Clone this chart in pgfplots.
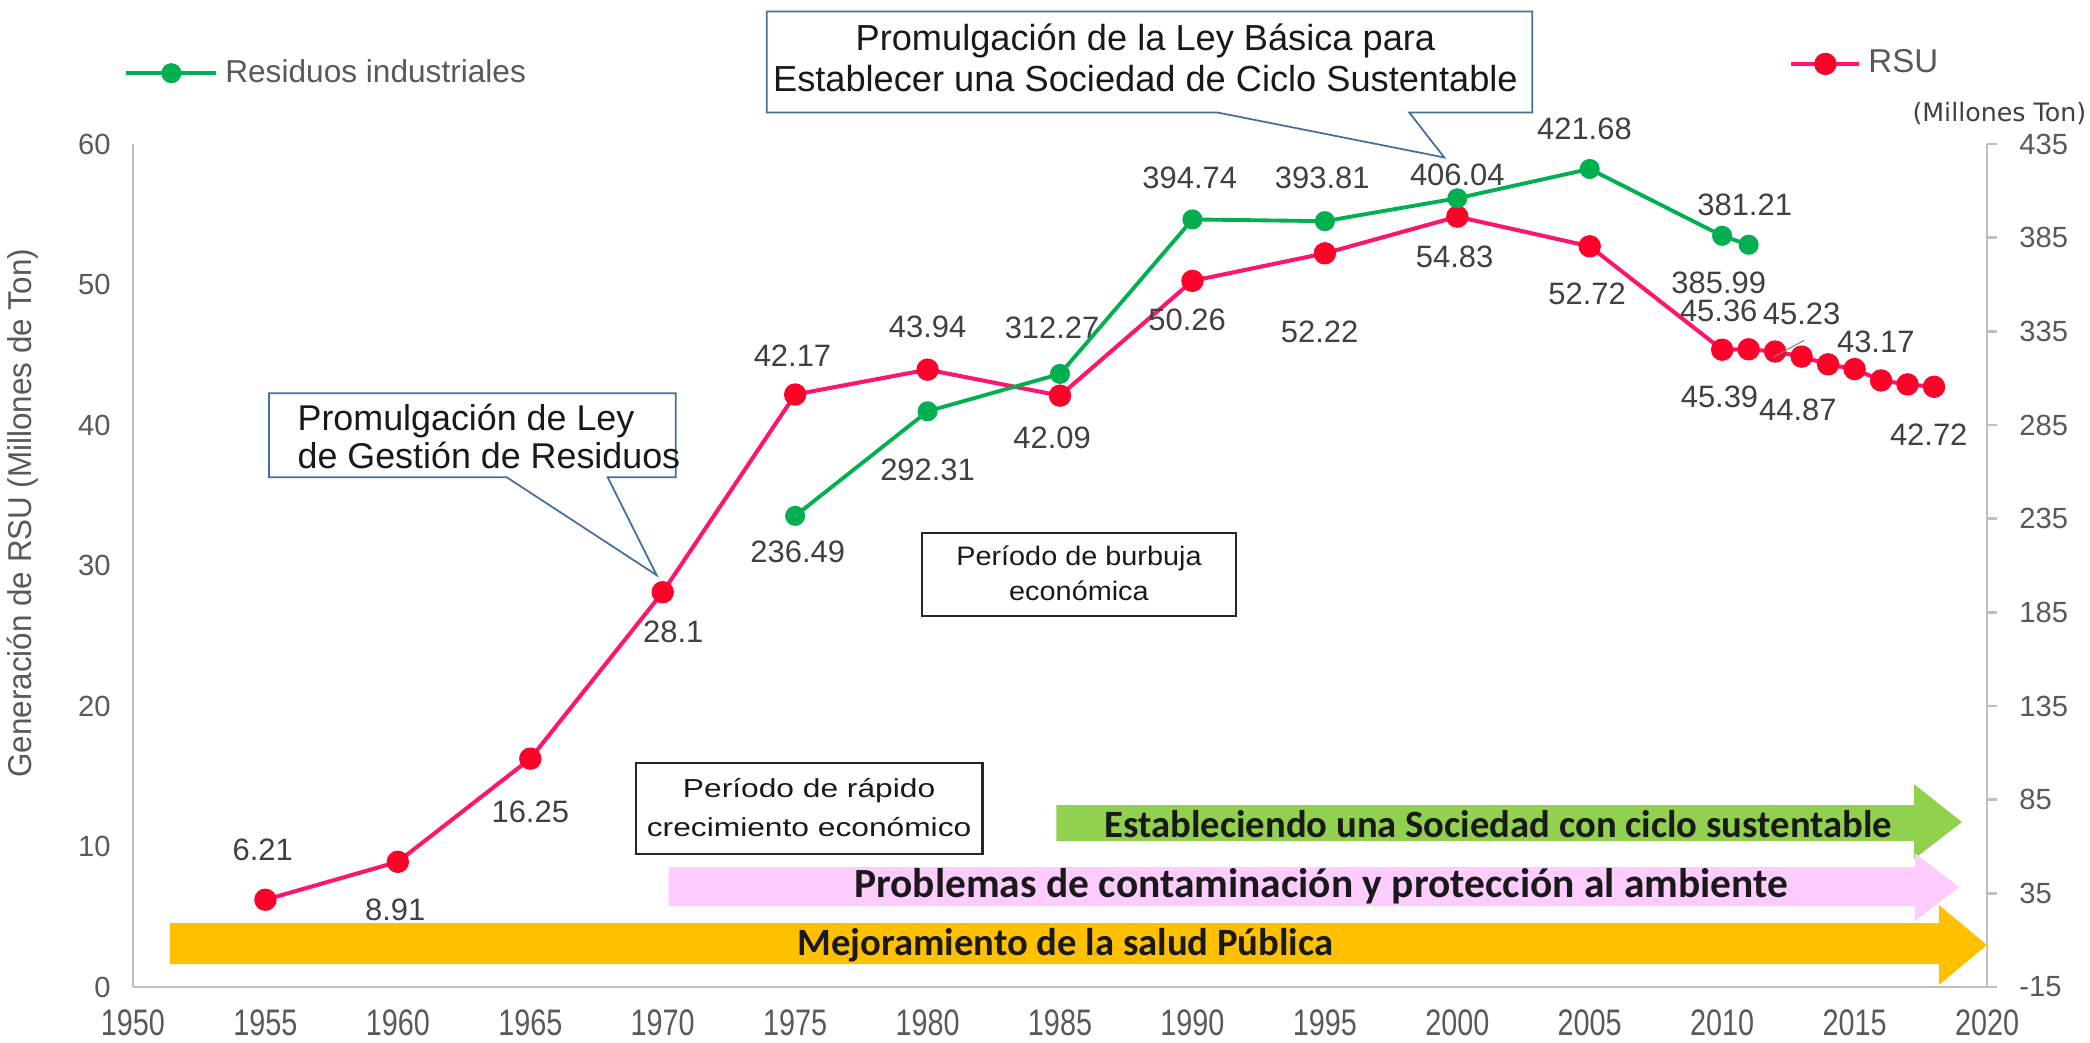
\documentclass[border=0pt]{standalone}
\usepackage{pgfplots}
\pgfplotsset{compat=1.18}
\usepackage{fontspec}
\setmainfont{Liberation Sans}
\newfontfamily\narrowfont[FakeStretch=0.78]{Liberation Sans}
\newfontfamily\ylabfont[FakeStretch=0.95]{Liberation Sans}
\newfontfamily\boxfontA[FakeStretch=1.22]{Liberation Sans}
\newfontfamily\boxfontB[FakeStretch=1.08]{Liberation Sans}
\newfontfamily\calfont{Carlito}
\newfontfamily\dejafont{DejaVu Sans}
\definecolor{rsuline}{RGB}{255,20,110}
\definecolor{rsumark}{RGB}{255,0,40}
\definecolor{indgreen}{RGB}{0,176,80}
\definecolor{axgrey}{RGB}{191,191,191}
\definecolor{ticktext}{RGB}{89,89,89}
\definecolor{labtext}{RGB}{64,64,64}
\definecolor{callblue}{RGB}{65,113,156}
\definecolor{arrgreen}{RGB}{146,208,80}
\definecolor{arrpink}{RGB}{255,204,255}
\definecolor{arrorange}{RGB}{255,192,0}
\begin{document}
\begin{tikzpicture}
\path[use as bounding box] (-1.33,-0.55) rectangle (19.57,9.87);
% ---------- left axis: RSU ----------
\begin{axis}[
  at={(0,0)}, anchor=south west,
  scale only axis, width=18.54cm, height=8.43cm,
  xmin=1950, xmax=2020, ymin=0, ymax=60,
  axis x line*=bottom, axis y line*=left,
  axis line style={axgrey, line width=0.7pt},
  xtick={1950,1955,...,2020}, ytick={0,10,...,60},
  major tick length=0pt,
  /pgf/number format/assume math mode=true,
  /pgf/number format/1000 sep={},
  xticklabel style={font=\narrowfont\fontsize{10.5}{12}\selectfont, text=ticktext, yshift=-0.1cm},
  yticklabel style={font=\fontsize{8.3}{10}\selectfont, text=ticktext, xshift=-0.1cm},
  ylabel={Generación de RSU (Millones de Ton)},
  ylabel style={at={(axis description cs:-0.0593,0.562)}, anchor=center, font=\ylabfont\fontsize{9.4}{10}\selectfont, text=ticktext},
  clip=false,
  legend style={at={(axis description cs:0.893,1.095)}, anchor=west, draw=none, fill=none, inner sep=0pt, font=\fontsize{9.4}{10}\selectfont, text=ticktext},
  legend image code/.code={\draw[mark repeat=2, mark phase=2, #1] plot coordinates {(0cm,0cm) (0.34cm,0cm) (0.68cm,0cm)};},
]
\addplot[rsuline, line width=1.15pt, mark=*, mark size=2.6pt, mark options={fill=rsumark, draw=rsumark}] coordinates {
 (1955,6.21) (1960,8.91) (1965,16.25) (1970,28.1) (1975,42.17) (1980,43.94)
 (1985,42.09) (1990,50.26) (1995,52.22) (2000,54.83) (2005,52.72)
 (2010,45.36) (2011,45.39) (2012,45.23) (2013,44.87) (2014,44.32)
 (2015,43.98) (2016,43.17) (2017,42.89) (2018,42.72)};
\addlegendentry{RSU}
% data labels RSU
\tikzset{lab/.style={font=\fontsize{8.8}{10}\selectfont, text=labtext, inner sep=0pt}}
\node[lab] at (axis cs:1954.9,9.78) {6.21};
\node[lab] at (axis cs:1959.9,5.5) {8.91};
\node[lab] at (axis cs:1965,12.5) {16.25};
\node[lab] at (axis cs:1970.4,25.3) {28.1};
\node[lab] at (axis cs:1974.9,44.9) {42.17};
\node[lab] at (axis cs:1980,47.0) {43.94};
\node[lab] at (axis cs:1984.7,39.1) {42.09};
\node[lab] at (axis cs:1989.8,47.5) {50.26};
\node[lab] at (axis cs:1994.8,46.6) {52.22};
\node[lab] at (axis cs:1999.9,52.0) {54.83};
\node[lab] at (axis cs:2004.9,49.3) {52.72};
\node[lab] at (axis cs:2009.87,48.1) {45.36};
\node[lab] at (axis cs:2013.0,47.9) {45.23};
\node[lab] at (axis cs:2009.9,42.0) {45.39};
\node[lab] at (axis cs:2012.86,41.1) {44.87};
\node[lab] at (axis cs:2015.8,45.9) {43.17};
\node[lab] at (axis cs:2017.8,39.3) {42.72};
% data labels industrial (in left-axis units)
\node[lab] at (axis cs:1975.1,31.0) {236.49};
\node[lab] at (axis cs:1980,36.8) {292.31};
\node[lab] at (axis cs:1984.7,46.9) {312.27};
\node[lab] at (axis cs:1989.9,57.6) {394.74};
\node[lab] at (axis cs:1994.9,57.6) {393.81};
\node[lab] at (axis cs:2000,57.8) {406.04};
\node[lab] at (axis cs:2004.8,61.1) {421.68};
\node[lab] at (axis cs:2009.87,50.1) {385.99};
\node[lab] at (axis cs:2010.85,55.7) {381.21};
\end{axis}
% ---------- right axis: industrial ----------
\begin{axis}[
  at={(0,0)}, anchor=south west,
  scale only axis, width=18.54cm, height=8.43cm,
  xmin=1950, xmax=2020, ymin=-15, ymax=435,
  axis x line=none, axis y line*=right,
  axis line style={axgrey, line width=0.7pt},
  ytick={-15,35,...,435},
  tick align=outside, major tick length=0.1cm,
  ytick style={axgrey, line width=0.7pt},
  /pgf/number format/assume math mode=true,
  yticklabel style={font=\fontsize{8.3}{10}\selectfont, text=ticktext, xshift=0.1cm},
  clip=false,
  legend style={at={(axis description cs:-0.005,1.084)}, anchor=west, draw=none, fill=none, inner sep=0pt, font=\fontsize{9}{10}\selectfont, text=ticktext},
  legend image code/.code={\draw[mark repeat=2, mark phase=2, #1] plot coordinates {(0cm,0cm) (0.45cm,0cm) (0.9cm,0cm)};},
]
\addplot[indgreen, line width=1.1pt, mark=*, mark size=2.3pt, mark options={fill=indgreen, draw=indgreen}] coordinates {
 (1975,236.49) (1980,292.31) (1985,312.27) (1990,394.74) (1995,393.81)
 (2000,406.04) (2005,421.68) (2010,385.99) (2011,381.21)};
\addlegendentry{Residuos industriales}
\end{axis}
% ---------- annotations (pixel scope) ----------
\begin{scope}[x=0.01cm, y=-0.01cm, shift={(-133,-987)}]
 % arrows
 \fill[arrgreen] (1057,805) -- (1915,805) -- (1915,784) -- (1963,822) -- (1915,859) -- (1915,841) -- (1057,841) -- cycle;
 \fill[arrpink] (669,867) -- (1916,867) -- (1916,853) -- (1960,887) -- (1916,921) -- (1916,906) -- (669,906) -- cycle;
 \fill[arrorange] (170,923) -- (1940,923) -- (1940,905) -- (1988,945) -- (1940,985) -- (1940,964) -- (170,964) -- cycle;
 \node[font=\calfont\bfseries\fontsize{11}{13}\selectfont, text=black!90] at (1499,824) {Estableciendo una Sociedad con ciclo sustentable};
 \node[font=\calfont\bfseries\fontsize{11.8}{13}\selectfont, text=black!90] at (1322,886) {Problemas de contaminación y protección al ambiente};
 \node[font=\calfont\bfseries\fontsize{11}{13}\selectfont, text=black!90] at (1066,945) {Mejoramiento de la salud Pública};
 % callouts
 \draw[callblue, line width=0.5pt, fill=white] (767,11) -- (1533,11) -- (1533,112) -- (1410,112) -- (1445,157) -- (1218,112) -- (767,112) -- cycle;
 \node[align=center, font=\fontsize{10.3}{11.7}\selectfont, text=black!90] at (1146,57) {Promulgación de la Ley Básica para\\Establecer una Sociedad de Ciclo Sustentable};
 \draw[callblue, line width=0.5pt, fill=white] (269,393) -- (676,393) -- (676,477) -- (608,477) -- (657,575) -- (507,477) -- (269,477) -- cycle;
 \node[align=left, anchor=west, inner sep=0pt, font=\fontsize{10.2}{10.8}\selectfont, text=black!90] at (297,436) {Promulgación de Ley\\de Gestión de Residuos};
 % boxes
 \draw[black!85, line width=0.6pt] (922,533) rectangle (1237,616);
 \node[align=center, font=\boxfontB\fontsize{7.6}{10.2}\selectfont, text=black!90] at (1079.5,573) {Período de burbuja\\económica};
 \draw[black!85, line width=0.6pt] (636,763) rectangle (983,854);
 \node[align=center, font=\boxfontA\fontsize{7.4}{11.1}\selectfont, text=black!90] at (809.5,807.5) {Período de rápido\\crecimiento económico};
 % leader line
 \draw[gray, line width=0.3pt] (1774,357) -- (1805,340);
 % unit label right axis
 \node[font=\dejafont\fontsize{7.2}{8}\selectfont, text=labtext, anchor=east, inner sep=0pt] at (2088,113) {(Millones Ton)};
\end{scope}
\end{tikzpicture}
\end{document}
